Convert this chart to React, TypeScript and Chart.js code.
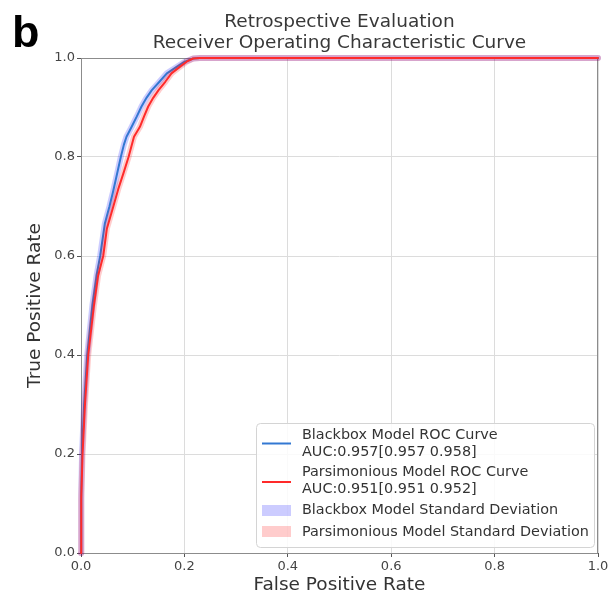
import { useEffect, useRef } from 'react';
import { Chart, registerables } from 'chart.js';

Chart.register(...registerables);

// ROC curve points (false positive rate, true positive rate)
const blackboxFpr = [0, 0.0005, 0.002, 0.006, 0.012, 0.022, 0.03, 0.037, 0.046, 0.055, 0.062, 0.07, 0.077, 0.083, 0.088, 0.098, 0.108, 0.117, 0.127, 0.137, 0.15, 0.166, 0.185, 0.2, 0.217, 0.23, 1.0];
const blackboxTpr = [0, 0.12, 0.2, 0.3, 0.4, 0.5, 0.56, 0.6, 0.665, 0.7, 0.73, 0.767, 0.8, 0.825, 0.841, 0.861, 0.882, 0.902, 0.92, 0.935, 0.95, 0.969, 0.982, 0.992, 0.999, 1.0, 1.0];

const parsimoniousFpr = [0, 0.0005, 0.003, 0.0077, 0.014, 0.025, 0.033, 0.043, 0.05, 0.0625, 0.072, 0.082, 0.092, 0.1025, 0.114, 0.122, 0.13, 0.14, 0.15, 0.163, 0.175, 0.191, 0.205, 0.217, 0.23, 1.0];
const parsimoniousTpr = [0, 0.11, 0.2, 0.3, 0.4, 0.5, 0.56, 0.6, 0.655, 0.7, 0.735, 0.767, 0.8, 0.841, 0.861, 0.882, 0.902, 0.92, 0.935, 0.952, 0.969, 0.982, 0.993, 0.999, 1.0, 1.0];

const axisTicks = [0, 0.2, 0.4, 0.6, 0.8, 1.0];
const axisTickLabels = ['0.0', '0.2', '0.4', '0.6', '0.8', '1.0'];

const titleLines = ['Retrospective Evaluation', 'Receiver Operating Characteristic Curve'];
const panelLetter = 'b';
const xAxisTitle = 'False Positive Rate';
const yAxisTitle = 'True Positive Rate';

const blackboxLegend = ['Blackbox Model ROC Curve', 'AUC:0.957[0.957 0.958]'];
const parsimoniousLegend = ['Parsimonious Model ROC Curve', 'AUC:0.951[0.951 0.952]'];
const blackboxBandLegend = 'Blackbox Model Standard Deviation';
const parsimoniousBandLegend = 'Parsimonious Model Standard Deviation';

const BLUE_LINE = '#3378d2';
const RED_LINE = '#ff2a2a';
const BLUE_BAND = 'rgba(0, 0, 255, 0.2)';
const RED_BAND = 'rgba(255, 0, 0, 0.2)';
const FONT = '"DejaVu Sans", sans-serif';

const toPoints = (xs: number[], ys: number[]) => xs.map((x, i) => ({ x, y: ys[i] }));

const overlayPlugin = {
  id: 'rocOverlay',
  beforeDatasetsDraw(chart: any) {
    const { ctx, chartArea: a } = chart;
    ctx.save();
    ctx.strokeStyle = '#8c8c8c';
    ctx.lineWidth = 1;
    ctx.strokeRect(a.left + 0.5, a.top + 0.5, a.right - a.left - 1, a.bottom - a.top);
    ctx.restore();
  },
  afterDraw(chart: any) {
    const { ctx, chartArea: a } = chart;
    ctx.save();

    // two-line title centred over the plot area
    ctx.fillStyle = '#383838';
    ctx.font = `18.5px ${FONT}`;
    ctx.textAlign = 'center';
    ctx.textBaseline = 'alphabetic';
    const cx = (a.left + a.right) / 2;
    ctx.fillText(titleLines[0], cx, 27);
    ctx.fillText(titleLines[1], cx, 48);

    // panel letter
    ctx.fillStyle = '#000';
    ctx.font = 'bold 45px "Liberation Sans", Arial, sans-serif';
    ctx.textAlign = 'left';
    ctx.fillText(panelLetter, 12, 47);

    // legend box in the lower right of the axes
    const bx = 256.5, by = 423.5, bw = 338, bh = 124;
    ctx.beginPath();
    ctx.roundRect(bx, by, bw, bh, 4);
    ctx.fillStyle = 'rgba(255,255,255,0.85)';
    ctx.fill();
    ctx.strokeStyle = '#d4d4d4';
    ctx.lineWidth = 1;
    ctx.stroke();

    const hx0 = 262, hx1 = 291, tx = 302;
    ctx.lineWidth = 2;
    ctx.strokeStyle = BLUE_LINE;
    ctx.beginPath();
    ctx.moveTo(hx0, 443.5);
    ctx.lineTo(hx1, 443.5);
    ctx.stroke();
    ctx.strokeStyle = RED_LINE;
    ctx.beginPath();
    ctx.moveTo(hx0, 482);
    ctx.lineTo(hx1, 482);
    ctx.stroke();

    ctx.fillStyle = BLUE_BAND;
    ctx.fillRect(hx0, 505, hx1 - hx0, 11);
    ctx.fillStyle = RED_BAND;
    ctx.fillRect(hx0, 526, hx1 - hx0, 11);

    ctx.fillStyle = '#333';
    ctx.font = `14.4px ${FONT}`;
    ctx.textAlign = 'left';
    ctx.textBaseline = 'middle';
    ctx.fillText(blackboxLegend[0], tx, 435);
    ctx.fillText(blackboxLegend[1], tx, 452);
    ctx.fillText(parsimoniousLegend[0], tx, 472);
    ctx.fillText(parsimoniousLegend[1], tx, 489.5);
    ctx.fillText(blackboxBandLegend, tx, 510.5);
    ctx.fillText(parsimoniousBandLegend, tx, 532);

    ctx.restore();
  },
};

const setTicks = (scale: any) => {
  scale.ticks = axisTicks.map((value) => ({ value }));
};

export default function App() {
  const canvasRef = useRef<HTMLCanvasElement | null>(null);

  useEffect(() => {
    const canvas = canvasRef.current;
    if (!canvas) return;

    const blackbox = toPoints(blackboxFpr, blackboxTpr);
    const parsimonious = toPoints(parsimoniousFpr, parsimoniousTpr);

    const chart = new Chart(canvas, {
      type: 'line',
      data: {
        datasets: [
          { label: parsimoniousLegend.join(' '), data: parsimonious, borderColor: RED_LINE, borderWidth: 2, order: 0 },
          { label: parsimoniousBandLegend, data: parsimonious, borderColor: RED_BAND, borderWidth: 6, order: 1 },
          { label: blackboxLegend.join(' '), data: blackbox, borderColor: BLUE_LINE, borderWidth: 2, order: 2 },
          { label: blackboxBandLegend, data: blackbox, borderColor: BLUE_BAND, borderWidth: 6, order: 3 },
        ].map((d) => ({
          ...d,
          pointRadius: 0,
          tension: 0,
          fill: false,
          clip: false as any,
          borderJoinStyle: 'round' as const,
          borderCapStyle: 'round' as const,
        })),
      },
      options: {
        responsive: false,
        animation: false,
        layout: { padding: { top: 58, right: 13, left: 0, bottom: 0 } },
        plugins: {
          legend: { display: false },
          tooltip: { enabled: false },
          title: { display: false },
        },
        scales: {
          x: {
            type: 'linear',
            min: 0,
            max: 1,
            afterBuildTicks: setTicks,
            afterFit: (scale: any) => {
              scale.height = 46;
            },
            grid: { color: '#dcdcdc', tickColor: '#555', tickLength: 4, drawTicks: true },
            border: { display: false },
            ticks: {
              color: '#444',
              font: { family: FONT, size: 13 },
              padding: 2,
              maxRotation: 0,
              callback: (_v: any, i: number) => axisTickLabels[i],
            },
            title: {
              display: true,
              text: xAxisTitle,
              color: '#333',
              font: { family: FONT, size: 18.5 },
              padding: { top: 0, bottom: 3 },
            },
          },
          y: {
            type: 'linear',
            min: 0,
            max: 1,
            afterBuildTicks: setTicks,
            afterFit: (scale: any) => {
              scale.width = 81;
            },
            grid: { color: '#dcdcdc', tickColor: '#555', tickLength: 4, drawTicks: true },
            border: { display: false },
            ticks: {
              color: '#444',
              font: { family: FONT, size: 13 },
              padding: 2,
              callback: (_v: any, i: number) => axisTickLabels[i],
            },
            title: {
              display: true,
              text: yAxisTitle,
              color: '#333',
              font: { family: FONT, size: 18.5 },
              padding: { top: 24, bottom: 0 },
            },
          },
        },
      },
      plugins: [overlayPlugin],
    });

    return () => chart.destroy();
  }, []);

  return (
    <div style={{ position: 'absolute', left: 0, top: 0, width: 611, height: 599, background: '#fff' }}>
      <canvas ref={canvasRef} width={611} height={599} />
    </div>
  );
}
